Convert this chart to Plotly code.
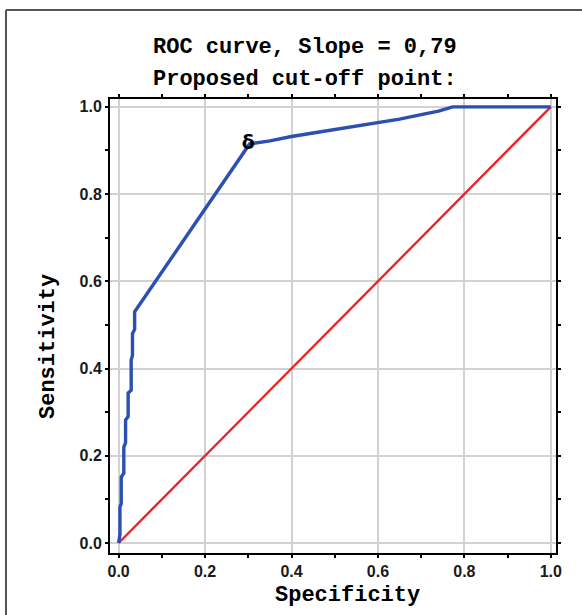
import plotly.graph_objects as go

# ROC curve points (x axis labelled "Specificity", y = sensitivity)
roc_x = [0.0, 0.003, 0.003, 0.006, 0.006, 0.012, 0.012, 0.016, 0.016, 0.022, 0.022,
         0.029, 0.029, 0.032, 0.032, 0.037, 0.037, 0.303,
         0.35, 0.40, 0.45, 0.50, 0.55, 0.60, 0.65, 0.70, 0.74, 0.773, 1.0]
roc_y = [0.0, 0.02, 0.083, 0.09, 0.151, 0.16, 0.22, 0.23, 0.282, 0.29, 0.344,
         0.35, 0.42, 0.43, 0.48, 0.49, 0.53, 0.915,
         0.922, 0.932, 0.94, 0.948, 0.957, 0.965, 0.972, 0.982, 0.99, 1.0, 1.0]
diag_x = [0.0, 1.0]
diag_y = [0.0, 1.0]
cut_x = [0.3]
cut_y = [0.915]
tick_vals = [0.0, 0.2, 0.4, 0.6, 0.8, 1.0]
tick_text = ["<b>0.0</b>", "<b>0.2</b>", "<b>0.4</b>", "<b>0.6</b>", "<b>0.8</b>", "<b>1.0</b>"]

fig = go.Figure()
fig.add_trace(go.Scatter(x=diag_x, y=diag_y, mode="lines",
                         line=dict(color="#e8262a", width=2.4), showlegend=False))
fig.add_trace(go.Scatter(x=roc_x, y=roc_y, mode="lines",
                         line=dict(color="#2b4fb2", width=3.4), showlegend=False))
fig.add_trace(go.Scatter(x=cut_x, y=cut_y, mode="text", text=["<b>δ</b>"],
                         textposition="middle center",
                         textfont=dict(family="DejaVu Sans", size=19, color="black"),
                         showlegend=False))

mono = "Liberation Mono"
axis_common = dict(
    showline=True, linecolor="black", linewidth=2, mirror="allticks",
    ticks="outside", ticklen=3, tickcolor="black", tickwidth=2,
    tickvals=tick_vals, ticktext=tick_text,
    showgrid=True, gridcolor="#d2d2d2", gridwidth=1.5, zeroline=False,
    tickfont=dict(family="Liberation Sans", size=16, color="#1a1a1a"),
    minor=dict(dtick=0.1, ticks="outside", ticklen=3, tickcolor="black", showgrid=False),
)
fig.update_xaxes(range=[-0.02, 1.012], **axis_common)
fig.update_yaxes(range=[-0.023, 1.018], **axis_common)

title_font = dict(family=mono, size=22, color="black")
border = dict(color="#555555", width=2)
fig.update_layout(
    width=582, height=615,
    margin=dict(l=110, r=26, t=99, b=62),
    plot_bgcolor="white", paper_bgcolor="white",
    annotations=[
        dict(text="<b>ROC curve, Slope = 0,79</b>", xref="paper", yref="paper",
             x=0.437, y=1.1145, showarrow=False, font=title_font,
             xanchor="center", yanchor="middle"),
        dict(text="<b>Proposed cut-off point:</b>", xref="paper", yref="paper",
             x=0.437, y=1.0419, showarrow=False, font=title_font,
             xanchor="center", yanchor="middle"),
        dict(text="<b>Specificity</b>", xref="paper", yref="paper",
             x=0.5325, y=-0.0935, showarrow=False, font=title_font,
             xanchor="center", yanchor="middle"),
        dict(text="<b>Sensitivity</b>", xref="paper", yref="paper",
             x=-0.139, y=0.4537, showarrow=False, font=title_font, textangle=-90,
             xanchor="center", yanchor="middle"),
    ],
    shapes=[
        dict(type="line", xref="paper", yref="paper",
             x0=-0.2332, y0=1.196, x1=1.5, y1=1.196, line=border, layer="below"),
        dict(type="line", xref="paper", yref="paper",
             x0=-0.2332, y0=1.196, x1=-0.2332, y1=-0.5, line=border, layer="below"),
    ],
)

fig.write_html("out.html", config={"displayModeBar": False},
               post_script="document.body.style.margin='0';document.body.style.overflow='hidden';")
